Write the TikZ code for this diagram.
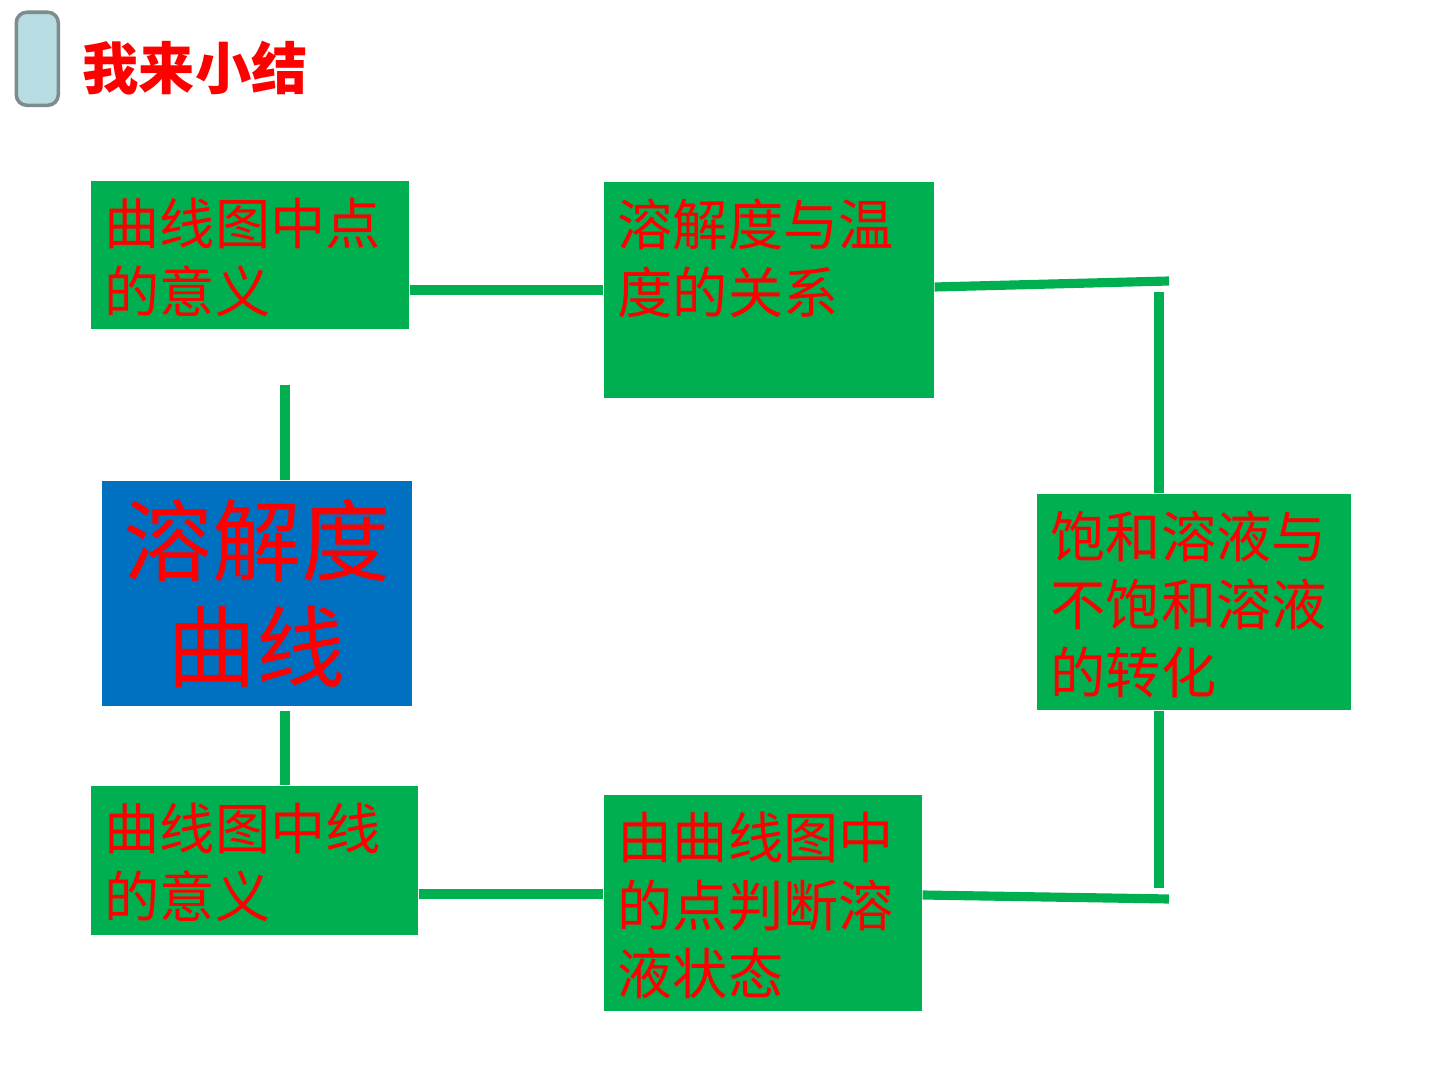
\documentclass[tikz,border=0pt]{standalone}
\usepackage{fontspec}
\newfontfamily\cjk{Noto Sans CJK SC}
\usetikzlibrary{calc}
\definecolor{gfill}{HTML}{00B050}
\definecolor{bfill}{HTML}{0070C0}
\definecolor{tbar}{HTML}{B7DDE3}
\definecolor{tbord}{HTML}{7F8C8D}
\definecolor{rtext}{HTML}{FF0000}
\newcommand\bxt[3]{\parbox[c][#2][t]{#1}{\vspace*{0.17cm}\leftskip=0.14cm\fontsize{15.7}{19.4}\selectfont #3}}
\tikzset{
  gbox/.style={fill=gfill, inner sep=0pt, anchor=north west, text=rtext, font=\cjk},
  conn/.style={draw=gfill, line width=2.6pt},
}
\begin{document}
\begin{tikzpicture}[x=0.01cm,y=-0.01cm]
\useasboundingbox[fill=white] (0,0) rectangle (1440,1080);
% title
\node[fill=tbar, draw=tbord, line width=1pt, rounded corners=3pt, minimum width=0.42cm, minimum height=0.93cm, inner sep=0pt, anchor=north west] (bar) at (14.5,10.5) {};
\node[anchor=west, inner sep=0pt, text=rtext, font=\cjk\bfseries\fontsize{16}{18}\selectfont] (title) at (82,68) {我来小结};
% boxes
\node[gbox] (A) at (90,180) {\bxt{3.18cm}{1.48cm}{曲线图中点\\的意义}};
\node[gbox] (B) at (603,181) {\bxt{3.30cm}{2.16cm}{溶解度与温\\度的关系}};
\node[gbox] (C) at (1036,493) {\bxt{3.14cm}{2.16cm}{饱和溶液与\\不饱和溶液\\的转化}};
\node[gbox] (D) at (603,794) {\bxt{3.18cm}{2.16cm}{由曲线图中\\的点判断溶\\液状态}};
\node[gbox] (E) at (90,785) {\bxt{3.27cm}{1.49cm}{曲线图中线\\的意义}};
\node[fill=bfill, inner sep=0pt, anchor=north west, minimum width=3.10cm, minimum height=2.25cm, text=rtext, align=center, font=\cjk\fontsize{25.3}{30}\selectfont] (F) at (101,480) {溶解度\\曲线};
% coordinates
\coordinate (tr1) at (1169,281);
\coordinate (tr2) at (1159,292);
\coordinate (br1) at (1169,899);
\coordinate (br2) at (1159,888);
\coordinate (lt) at (285,385);
\coordinate (lb) at (285,711);
% connectors
\draw[conn] (A.north east |- 0,290) -- (B.west |- 0,290);
\draw[conn] (B.east |- 0,287) -- (tr1);
\draw[conn] (tr2) -- (tr2 |- C.north);
\draw[conn] (br2 |- C.south) -- (br2);
\draw[conn] (D.east |- 0,895) -- (br1);
\draw[conn] (E.east |- 0,894) -- (D.west |- 0,894);
\draw[conn] (lt) -- (lt |- F.north);
\draw[conn] (lb) -- (lb |- E.north);
\end{tikzpicture}
\end{document}
